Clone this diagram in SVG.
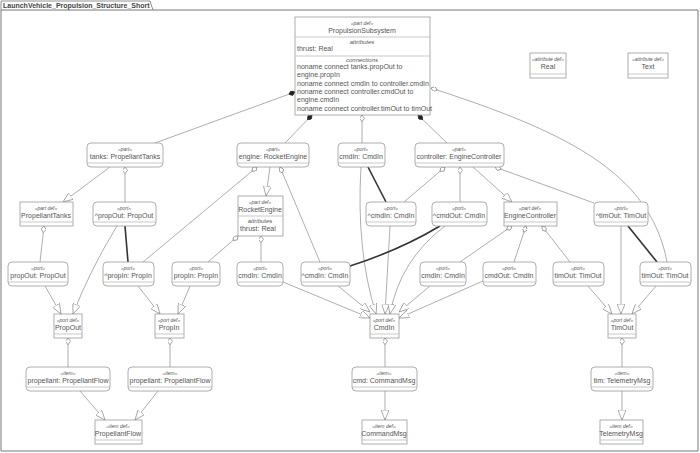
<svg xmlns="http://www.w3.org/2000/svg" width="700" height="453" viewBox="0 0 700 453">
<style>
text{font-family:"Liberation Sans",Arial,sans-serif;fill:#555;text-anchor:middle}
.s{font-size:5px;font-style:italic}
.n{font-size:7px}
.l{text-anchor:start}
.b{fill:#fff;stroke:#999;stroke-width:0.8}
.d{stroke:#bbb;stroke-width:0.8;fill:none}
.c{stroke:#777;stroke-width:0.6;fill:none}
.k{stroke:#333;stroke-width:1.6;fill:none}
.g{marker-end:url(#tri)}
.o{marker-start:url(#dia)}
.f{marker-start:url(#fdia)}
</style>
<defs>
<marker id="tri" viewBox="0 0 10 8" refX="10" refY="4" markerWidth="10" markerHeight="8" markerUnits="userSpaceOnUse" orient="auto"><path d="M0,0 L10,4 L0,8 z" fill="#fff" stroke="#777" stroke-width="0.6"/></marker>
<marker id="dia" viewBox="0 0 8 6" refX="8" refY="3" markerWidth="7" markerHeight="5" markerUnits="userSpaceOnUse" orient="auto-start-reverse"><path d="M0,3 L4,0 L8,3 L4,6 z" fill="#fff" stroke="#777" stroke-width="0.8"/></marker>
<marker id="fdia" viewBox="0 0 8 6" refX="8" refY="3" markerWidth="7" markerHeight="5" markerUnits="userSpaceOnUse" orient="auto-start-reverse"><path d="M0,3 L4,0 L8,3 L4,6 z" fill="#222" stroke="#222" stroke-width="0.8"/></marker>
</defs>
<rect x="0" y="0" width="700" height="453" fill="#fff"/>
<path d="M1,10 H698 V451 H1 Z" fill="none" stroke="#777" stroke-width="1"/>
<path d="M1,10 V1 H150 L153,10" fill="none" stroke="#777" stroke-width="0.8"/>
<text x="3" y="8" class="l" style="font-size:7px;font-weight:bold;fill:#444">LaunchVehicle_Propulsion_Structure_Short</text>

<g id="connectors">
<path class="c f" d="M295,92 L155,143"/>
<path class="c f" d="M312,115 L285,143"/>
<path class="c o" d="M362,115 L362,143"/>
<path class="c f" d="M418,115 L447,143"/>
<path class="c o" d="M431,88 C560,130 650,170 667,262"/>
<path class="c g" d="M110,167 L63,202"/>
<path class="c o" d="M125,167 L125,202"/>
<path class="c o" d="M44,226 L40,262"/>
<path class="c g" d="M117,226 Q90,270 73,314"/>
<path class="k" d="M125,226 L128,262"/>
<path class="c g" d="M45,286 L61,314"/>
<path class="c g" d="M138,286 L160,314"/>
<path class="c g" d="M190,286 L178,314"/>
<path class="c o" d="M257,167 L143,262"/>
<path class="c g" d="M270,167 L266,196"/>
<path class="c o" d="M280,167 L320,262"/>
<path class="c o" d="M238,236 L208,262"/>
<path class="c o" d="M261,236 L261,262"/>
<path class="c g" d="M283,282 L370,318"/>
<path class="c g" d="M338,286 L370,312"/>
<path class="c g" d="M361,167 Q356,250 376,314"/>
<path class="k" d="M368,167 L386,202"/>
<path class="c g" d="M390,226 L385,314"/>
<path class="k" d="M440,226 Q400,250 350,266"/>
<path class="c g" d="M445,226 Q400,260 390,314"/>
<path class="c g" d="M430,286 L399,312"/>
<path class="c g" d="M483,281 L399,318"/>
<path class="c o" d="M445,167 L404,202"/>
<path class="c o" d="M460,167 L460,202"/>
<path class="c g" d="M473,167 L512,202"/>
<path class="c o" d="M495,167 L594,203"/>
<path class="c o" d="M512,226 L460,262"/>
<path class="c o" d="M526,226 L514,262"/>
<path class="c o" d="M542,226 L570,262"/>
<path class="c g" d="M588,286 L612,314"/>
<path class="c g" d="M621,226 L621,314"/>
<path class="k" d="M628,226 L657,262"/>
<path class="c g" d="M656,286 L632,314"/>
<path class="c o" d="M68,338 L68,367"/>
<path class="c o" d="M170,338 L170,367"/>
<path class="c g" d="M80,391 L105,420"/>
<path class="c g" d="M158,391 L135,420"/>
<path class="c o" d="M385,338 L385,367"/>
<path class="c g" d="M385,391 L385,420"/>
<path class="c o" d="M622,338 L622,367"/>
<path class="c g" d="M622,391 L622,420"/>
</g>

<g id="PropulsionSubsystem">
<rect class="b" x="295" y="17" width="135" height="98"/>
<text class="s" x="362" y="25">«part def»</text>
<text class="n" x="362" y="33">PropulsionSubsystem</text>
<line class="d" x1="295" y1="37" x2="430" y2="37"/>
<text class="s" x="362" y="44" style="font-size:6px">attributes</text>
<text class="n l" x="297" y="51">thrust: Real</text>
<line class="d" x1="295" y1="56" x2="430" y2="56"/>
<text class="s" x="362" y="62" style="font-size:6px">connections</text>
<text class="n l" x="297" y="69">noname connect tanks.propOut to</text>
<text class="n l" x="297" y="77">engine.propIn</text>
<text class="n l" x="297" y="86">noname connect cmdIn to controller.cmdIn</text>
<text class="n l" x="297" y="94">noname connect controller.cmdOut to</text>
<text class="n l" x="297" y="102">engine.cmdIn</text>
<text class="n l" x="297" y="111">noname connect controller.timOut to timOut</text>
</g>
<g id="Real"><rect class="b" x="530" y="53" width="36" height="25"/><text class="s" x="548" y="61">«attribute def»</text><text class="n" x="548" y="69">Real</text><line class="d" x1="530" y1="74" x2="566" y2="74"/></g>
<g id="Text"><rect class="b" x="628" y="53" width="40" height="25"/><text class="s" x="648" y="61">«attribute def»</text><text class="n" x="648" y="69">Text</text><line class="d" x1="628" y1="74" x2="668" y2="74"/></g>

<g id="tanks"><rect class="b" x="87" y="143" width="76" height="24" rx="4"/><text class="s" x="125" y="151">«part»</text><text class="n" x="125" y="159">tanks: PropellantTanks</text><line class="d" x1="87" y1="163" x2="163" y2="163"/></g>
<g id="engine"><rect class="b" x="237" y="143" width="72" height="24" rx="4"/><text class="s" x="273" y="151">«part»</text><text class="n" x="273" y="159">engine: RocketEngine</text><line class="d" x1="237" y1="163" x2="309" y2="163"/></g>
<g id="cmdIn_top"><rect class="b" x="338" y="143" width="47" height="24" rx="4"/><text class="s" x="361" y="151">«port»</text><text class="n" x="361" y="159">cmdIn: CmdIn</text><line class="d" x1="338" y1="163" x2="385" y2="163"/></g>
<g id="controller"><rect class="b" x="415" y="143" width="89" height="24" rx="4"/><text class="s" x="459" y="151">«part»</text><text class="n" x="459" y="159">controller: EngineController</text><line class="d" x1="415" y1="163" x2="504" y2="163"/></g>

<g id="PropellantTanks"><rect class="b" x="20" y="202" width="53" height="24"/><text class="s" x="46" y="210">«part def»</text><text class="n" x="46" y="218">PropellantTanks</text><line class="d" x1="20" y1="222" x2="73" y2="222"/></g>
<g id="tanks_propOut"><rect class="b" x="93" y="202" width="63" height="24" rx="4"/><text class="s" x="124" y="210">«port»</text><text class="n" x="124" y="218">^propOut: PropOut</text><line class="d" x1="93" y1="222" x2="156" y2="222"/></g>
<g id="RocketEngine"><rect class="b" x="238" y="196" width="45" height="40"/><text class="s" x="260" y="204">«part def»</text><text class="n" x="260" y="212">RocketEngine</text><line class="d" x1="238" y1="216" x2="283" y2="216"/><text class="s" x="260" y="223" style="font-size:6px">attributes</text><text class="n l" x="240" y="231">thrust: Real</text></g>
<g id="ctrl_cmdIn"><rect class="b" x="366" y="202" width="50" height="24" rx="4"/><text class="s" x="391" y="210">«port»</text><text class="n" x="391" y="218">^cmdIn: CmdIn</text><line class="d" x1="366" y1="222" x2="416" y2="222"/></g>
<g id="ctrl_cmdOut"><rect class="b" x="432" y="202" width="55" height="24" rx="4"/><text class="s" x="459" y="210">«port»</text><text class="n" x="459" y="218">^cmdOut: CmdIn</text><line class="d" x1="432" y1="222" x2="487" y2="222"/></g>
<g id="EngineController"><rect class="b" x="504" y="202" width="53" height="24"/><text class="s" x="530" y="210">«part def»</text><text class="n" x="530" y="218">EngineController</text><line class="d" x1="504" y1="222" x2="557" y2="222"/></g>
<g id="ctrl_timOut"><rect class="b" x="594" y="202" width="54" height="24" rx="4"/><text class="s" x="621" y="210">«port»</text><text class="n" x="621" y="218">^timOut: TimOut</text><line class="d" x1="594" y1="222" x2="648" y2="222"/></g>

<g id="PT_propOut"><rect class="b" x="8" y="262" width="60" height="24" rx="4"/><text class="s" x="38" y="270">«port»</text><text class="n" x="38" y="278">propOut: PropOut</text><line class="d" x1="8" y1="282" x2="68" y2="282"/></g>
<g id="eng_propIn"><rect class="b" x="103" y="262" width="51" height="24" rx="4"/><text class="s" x="128" y="270">«port»</text><text class="n" x="128" y="278">^propIn: PropIn</text><line class="d" x1="103" y1="282" x2="154" y2="282"/></g>
<g id="RE_propIn"><rect class="b" x="172" y="262" width="48" height="24" rx="4"/><text class="s" x="196" y="270">«port»</text><text class="n" x="196" y="278">propIn: PropIn</text><line class="d" x1="172" y1="282" x2="220" y2="282"/></g>
<g id="RE_cmdIn"><rect class="b" x="237" y="262" width="46" height="24" rx="4"/><text class="s" x="260" y="270">«port»</text><text class="n" x="260" y="278">cmdIn: CmdIn</text><line class="d" x1="237" y1="282" x2="283" y2="282"/></g>
<g id="eng_cmdIn"><rect class="b" x="301" y="262" width="49" height="24" rx="4"/><text class="s" x="325" y="270">«port»</text><text class="n" x="325" y="278">^cmdIn: CmdIn</text><line class="d" x1="301" y1="282" x2="350" y2="282"/></g>
<g id="EC_cmdIn"><rect class="b" x="420" y="262" width="46" height="24" rx="4"/><text class="s" x="443" y="270">«port»</text><text class="n" x="443" y="278">cmdIn: CmdIn</text><line class="d" x1="420" y1="282" x2="466" y2="282"/></g>
<g id="EC_cmdOut"><rect class="b" x="483" y="262" width="53" height="24" rx="4"/><text class="s" x="509" y="270">«port»</text><text class="n" x="509" y="278">cmdOut: CmdIn</text><line class="d" x1="483" y1="282" x2="536" y2="282"/></g>
<g id="EC_timOut"><rect class="b" x="553" y="262" width="51" height="24" rx="4"/><text class="s" x="578" y="270">«port»</text><text class="n" x="578" y="278">timOut: TimOut</text><line class="d" x1="553" y1="282" x2="604" y2="282"/></g>
<g id="timOut"><rect class="b" x="640" y="262" width="51" height="24" rx="4"/><text class="s" x="665" y="270">«port»</text><text class="n" x="665" y="278">timOut: TimOut</text><line class="d" x1="640" y1="282" x2="691" y2="282"/></g>

<g id="PropOut"><rect class="b" x="54" y="314" width="28" height="24"/><text class="s" x="68" y="322">«port def»</text><text class="n" x="68" y="330">PropOut</text><line class="d" x1="54" y1="334" x2="82" y2="334"/></g>
<g id="PropIn"><rect class="b" x="155" y="314" width="29" height="24"/><text class="s" x="169" y="322">«port def»</text><text class="n" x="169" y="330">PropIn</text><line class="d" x1="155" y1="334" x2="184" y2="334"/></g>
<g id="CmdIn"><rect class="b" x="370" y="314" width="29" height="24"/><text class="s" x="384" y="322">«port def»</text><text class="n" x="384" y="330">CmdIn</text><line class="d" x1="370" y1="334" x2="399" y2="334"/></g>
<g id="TimOut"><rect class="b" x="608" y="314" width="28" height="24"/><text class="s" x="622" y="322">«port def»</text><text class="n" x="622" y="330">TimOut</text><line class="d" x1="608" y1="334" x2="636" y2="334"/></g>

<g id="PO_propellant"><rect class="b" x="26" y="367" width="84" height="24" rx="4"/><text class="s" x="68" y="375">«item»</text><text class="n" x="68" y="383">propellant: PropellantFlow</text><line class="d" x1="26" y1="387" x2="110" y2="387"/></g>
<g id="PI_propellant"><rect class="b" x="128" y="367" width="84" height="24" rx="4"/><text class="s" x="170" y="375">«item»</text><text class="n" x="170" y="383">propellant: PropellantFlow</text><line class="d" x1="128" y1="387" x2="212" y2="387"/></g>
<g id="cmd"><rect class="b" x="352" y="367" width="65" height="24" rx="4"/><text class="s" x="384" y="375">«item»</text><text class="n" x="384" y="383">cmd: CommandMsg</text><line class="d" x1="352" y1="387" x2="417" y2="387"/></g>
<g id="tim"><rect class="b" x="591" y="367" width="62" height="24" rx="4"/><text class="s" x="622" y="375">«item»</text><text class="n" x="622" y="383">tim: TelemetryMsg</text><line class="d" x1="591" y1="387" x2="653" y2="387"/></g>

<g id="PropellantFlow"><rect class="b" x="95" y="420" width="47" height="24"/><text class="s" x="118" y="428">«item def»</text><text class="n" x="118" y="436">PropellantFlow</text><line class="d" x1="95" y1="440" x2="142" y2="440"/></g>
<g id="CommandMsg"><rect class="b" x="362" y="420" width="45" height="24"/><text class="s" x="384" y="428">«item def»</text><text class="n" x="384" y="436">CommandMsg</text><line class="d" x1="362" y1="440" x2="407" y2="440"/></g>
<g id="TelemetryMsg"><rect class="b" x="600" y="420" width="43" height="24"/><text class="s" x="621" y="428">«item def»</text><text class="n" x="621" y="436">TelemetryMsg</text><line class="d" x1="600" y1="440" x2="643" y2="440"/></g>
</svg>
